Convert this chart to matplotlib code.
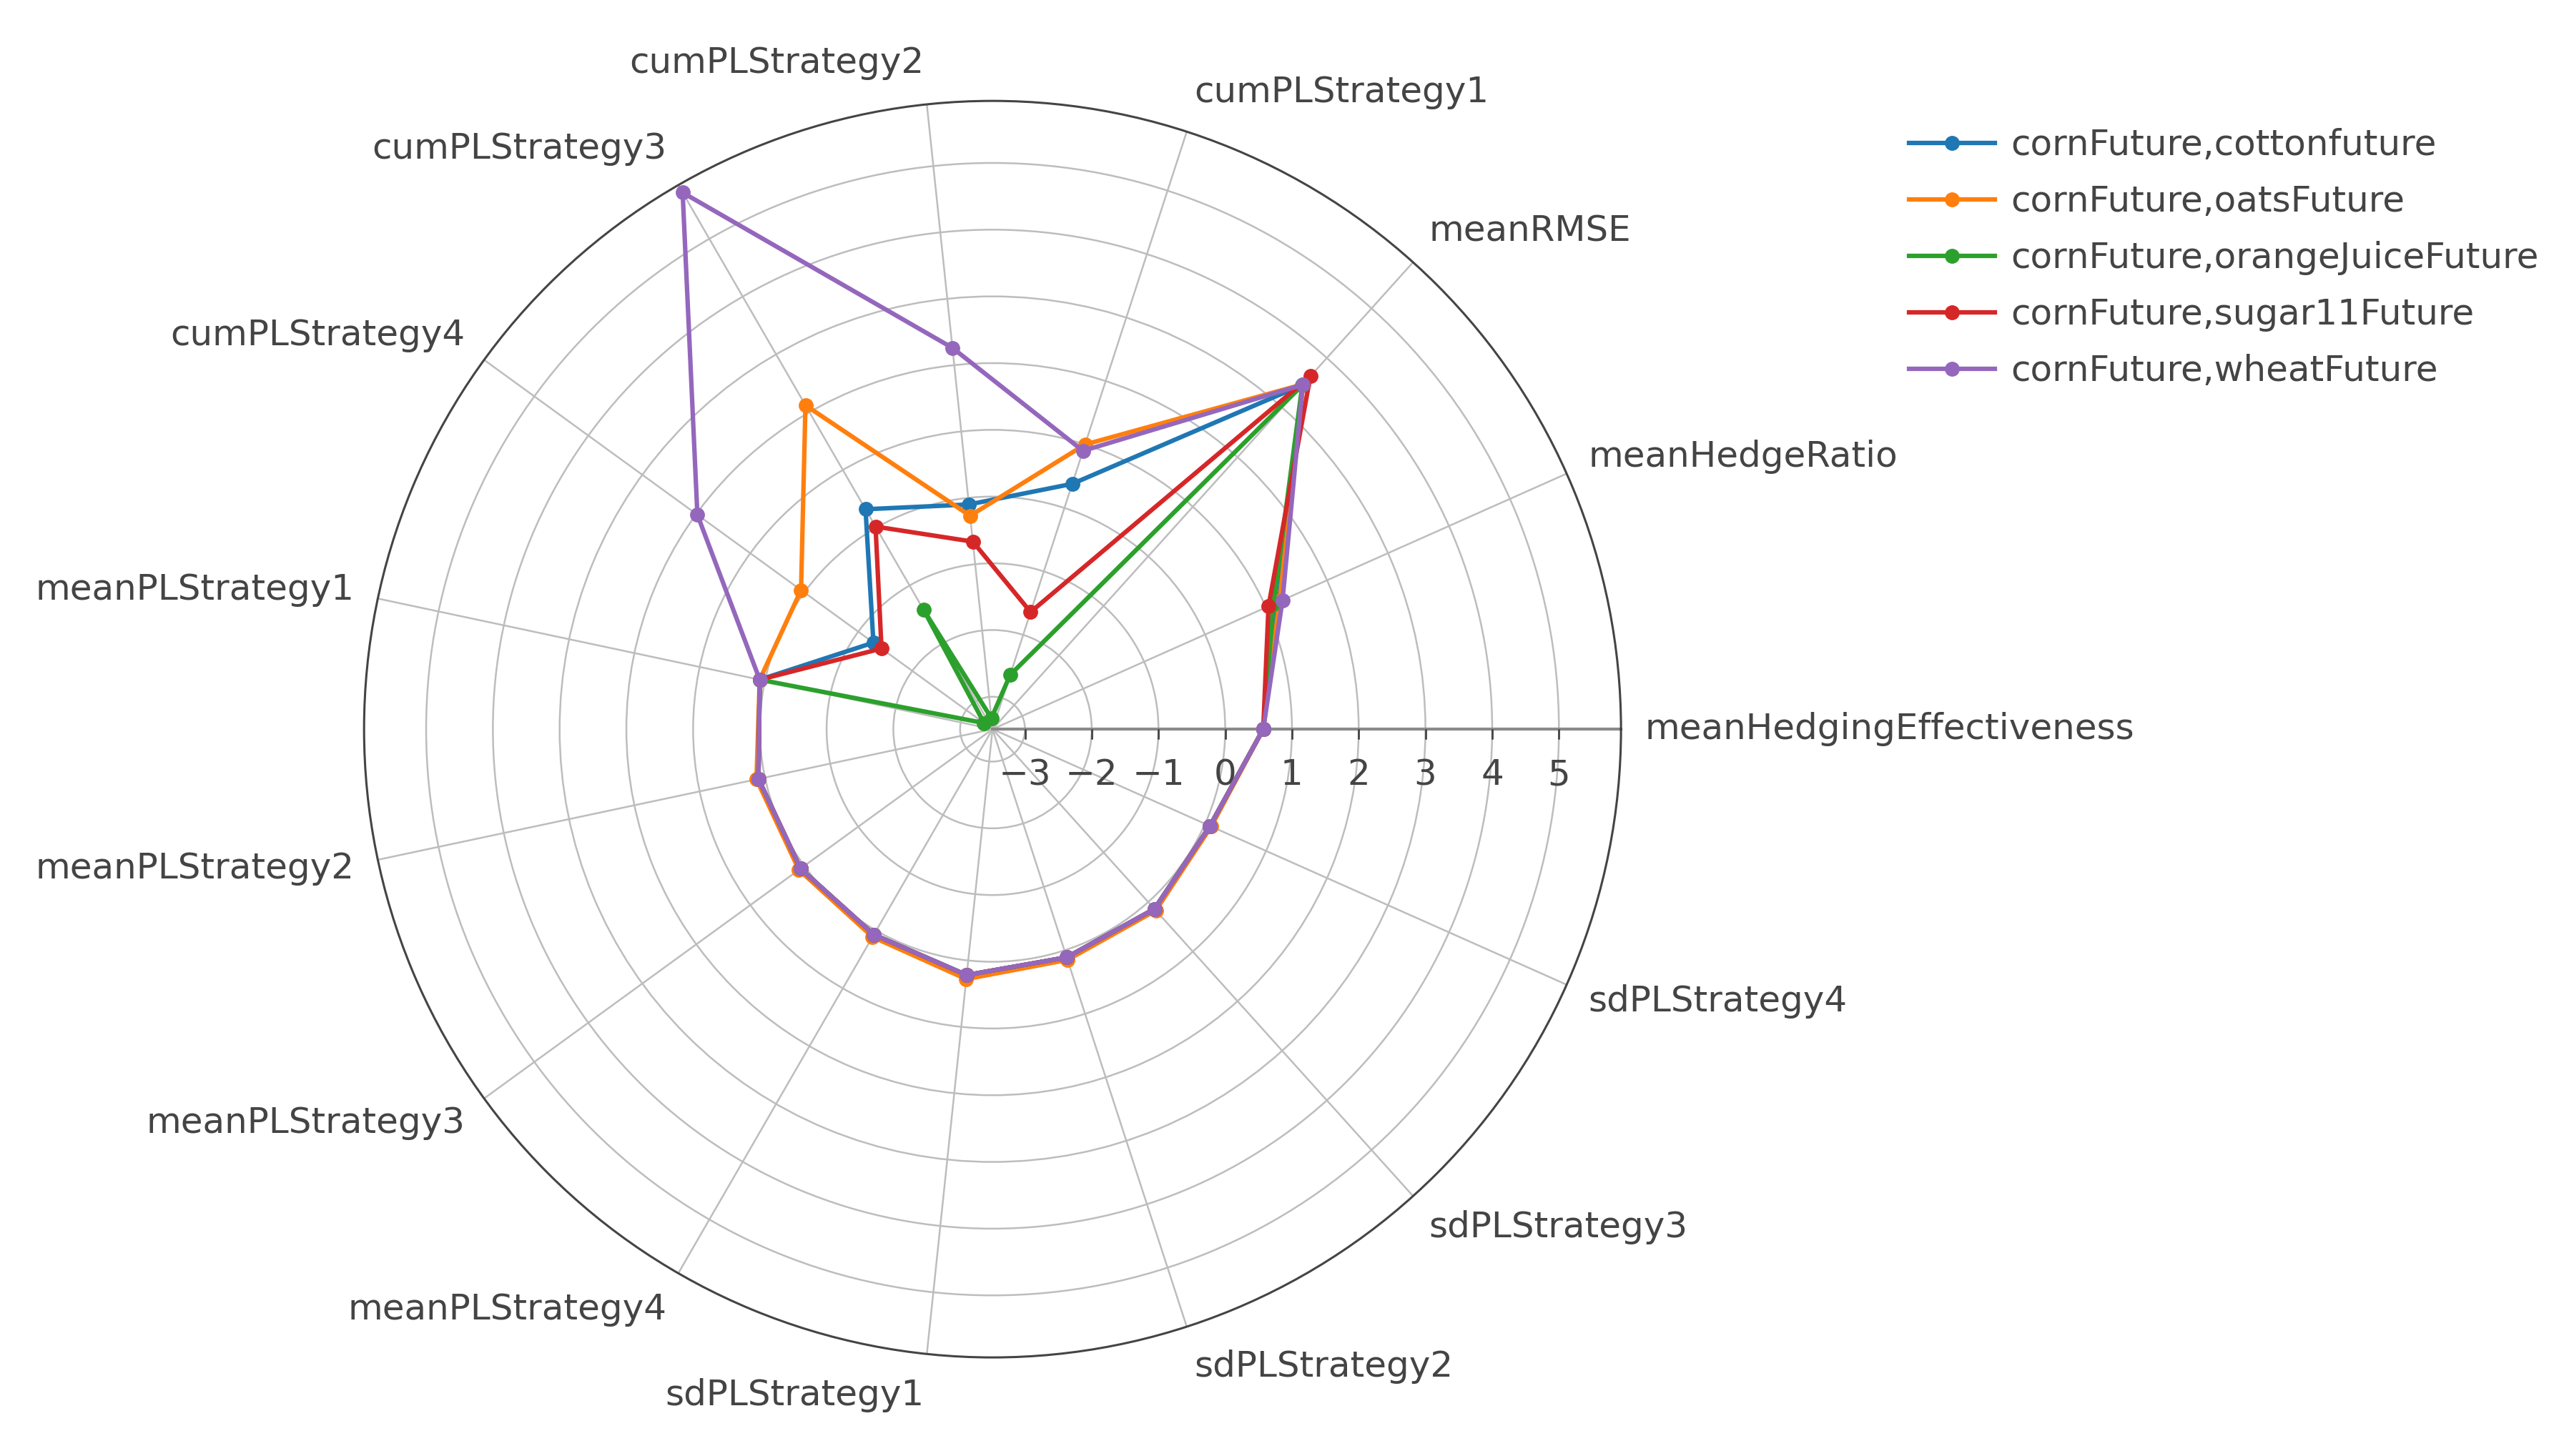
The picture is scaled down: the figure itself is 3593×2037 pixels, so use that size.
import numpy as np
import matplotlib
matplotlib.use("Agg")
import matplotlib.pyplot as plt

categories = ["meanHedgingEffectiveness", "meanHedgeRatio", "meanRMSE",
              "cumPLStrategy1", "cumPLStrategy2", "cumPLStrategy3", "cumPLStrategy4",
              "meanPLStrategy1", "meanPLStrategy2", "meanPLStrategy3", "meanPLStrategy4",
              "sdPLStrategy1", "sdPLStrategy2", "sdPLStrategy3", "sdPLStrategy4"]
series = ["cornFuture,cottonfuture", "cornFuture,oatsFuture",
          "cornFuture,orangeJuiceFuture", "cornFuture,sugar11Future",
          "cornFuture,wheatFuture"]
colors = ["#1f77b4", "#ff7f0e", "#2ca02c", "#d62728", "#9467bd"]

cotton = [0.57, 1.20, 3.46, 0.38, -0.10, 0.32, -1.28, 0.08, 0.10, 0.07, 0.07, 0.22, 0.11, 0.14, 0.08]
oats = [0.57, 1.22, 3.47, 1.00, -0.27, 2.12, 0.06, 0.08, 0.13, 0.10, 0.11, 0.28, 0.15, 0.17, 0.10]
orange_juice = [0.57, 1.12, 3.45, -2.63, -3.32, -1.42, -3.33, 0.08, 0.10, 0.07, 0.07, 0.22, 0.11, 0.14, 0.08]
sugar = [0.57, 1.04, 3.63, -1.64, -0.66, 0.02, -1.43, 0.08, 0.10, 0.07, 0.07, 0.22, 0.11, 0.14, 0.08]
wheat = [0.57, 1.27, 3.46, 0.90, 2.26, 5.80, 1.98, 0.08, 0.10, 0.07, 0.07, 0.22, 0.11, 0.14, 0.08]
values = [cotton, oats, orange_juice, sugar, wheat]

rticks = [-3, -2, -1, 0, 1, 2, 3, 4, 5]
rmin, rmax = -3.486, 5.93

FS = 36
TXT = "#444444"

fig = plt.figure(figsize=(35.93, 20.37), dpi=100)
ax = fig.add_axes([0.1417, 0.0677, 0.4893, 0.8630], projection="polar")

n = len(categories)
theta = np.deg2rad(np.arange(n) * 360.0 / n)
ax.set_xticks(theta)
ax.set_xticklabels([])
ax.set_yticks(rticks)
ax.set_yticklabels([])
ax.set_ylim(rmin, rmax)
ax.grid(color="#bdbdbd", linewidth=1.8)
ax.spines["polar"].set_color("#444444")
ax.spines["polar"].set_linewidth(2.2)
ax.tick_params(axis="x", direction="out", length=10, width=2, color="#444444")
ax.tick_params(axis="y", length=0)

# radial axis line, ticks below it, labels
ax.plot([0, 0], [rmin, rmax], color="#8a8a8a", lw=3, zorder=1.8)
ax.plot(np.zeros(len(rticks)), rticks, ls="none", marker=3, ms=10, mew=2,
        color="#444444", zorder=1.9)
for r in rticks:
    ax.annotate(str(r).replace("-", "\u2212"), xy=(0, r), xytext=(0, -29),
                textcoords="offset points", ha="center", va="top",
                fontsize=FS, color=TXT)

# category labels outside the circle
pad, hh = 24, 18
for t, c in zip(theta, categories):
    cs, sn = np.cos(t), np.sin(t)
    ha = "left" if cs > 0.02 else ("right" if cs < -0.02 else "center")
    ax.annotate(c, xy=(t, rmax), xytext=(pad * cs, pad * sn + hh * sn),
                textcoords="offset points", ha=ha, va="center",
                fontsize=FS, color=TXT, annotation_clip=False)

th_closed = np.append(theta, theta[0])
handles = []
for i, (name, v, col) in enumerate(zip(series, values, colors)):
    vv = np.append(v, v[0])
    ln, = ax.plot(th_closed, vv, color=col, lw=4.5, marker="o", ms=14,
                  zorder=3 + i, clip_on=False, label=name)
    handles.append(ln)

fig.legend(handles, series, loc="upper left", bbox_to_anchor=(0.7431, 0.912),
           frameon=False, fontsize=FS, handlelength=2.4, handletextpad=0.45,
           labelspacing=0.62, borderaxespad=0, borderpad=0, labelcolor=TXT)

fig.savefig("out.png", dpi=100, facecolor="white")
